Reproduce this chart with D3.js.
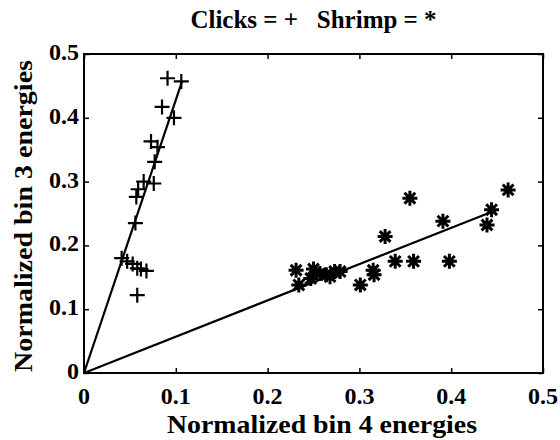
<!DOCTYPE html>
<html>
<head>
<meta charset="utf-8">
<script src="https://cdnjs.cloudflare.com/ajax/libs/d3/7.8.5/d3.min.js"></script>
<style>
  body { margin: 0; background: #fff; }
  text { font-family: "Liberation Serif", "Times New Roman", "DejaVu Serif", serif; font-weight: bold; fill: #000; }
</style>
</head>
<body>
<script>
// Clicks (+) : bin 4 energy, bin 3 energy
var clicksX = [0.091, 0.106, 0.085, 0.098, 0.073, 0.080, 0.077, 0.076, 0.065, 0.059,
  0.057, 0.056, 0.041, 0.047, 0.053, 0.058, 0.062, 0.068, 0.058];
var clicksY = [0.462, 0.457, 0.417, 0.400, 0.363, 0.354, 0.331, 0.297, 0.300, 0.288,
  0.276, 0.235, 0.180, 0.175, 0.171, 0.164, 0.163, 0.160, 0.122];

// Shrimp (*)
var shrimpX = [0.462, 0.355, 0.444, 0.391, 0.439, 0.328, 0.339, 0.359, 0.398, 0.315,
  0.316, 0.301, 0.231, 0.234, 0.250, 0.247, 0.257, 0.264, 0.273, 0.279, 0.268];
var shrimpY = [0.287, 0.274, 0.256, 0.238, 0.232, 0.214, 0.175, 0.175, 0.175, 0.161,
  0.154, 0.138, 0.161, 0.138, 0.163, 0.148, 0.156, 0.154, 0.159, 0.159, 0.151];

// fitted lines through the origin
var clicksFit = [[0, 0], [0.107, 0.458]];
var shrimpFit = [[0, 0], [0.45, 0.256]];

var ticks = [0, 0.1, 0.2, 0.3, 0.4, 0.5];
var tickLabels = ["0", "0.1", "0.2", "0.3", "0.4", "0.5"];

var width = 560,
  height = 440,
  plotLeft = 84, plotRight = 543, plotTop = 54, plotBottom = 373;

var svg = d3.select("body").append("svg")
  .attr("width", width)
  .attr("height", height);

var x = d3.scaleLinear().domain([0, 0.5]).range([plotLeft, plotRight]);
var y = d3.scaleLinear().domain([0, 0.5]).range([plotBottom, plotTop]);

// frame
svg.append("rect")
  .attr("x", plotLeft).attr("y", plotTop)
  .attr("width", plotRight - plotLeft).attr("height", plotBottom - plotTop)
  .attr("fill", "none").attr("stroke", "#000").attr("stroke-width", 2);

// inner ticks on all four sides
var tickLen = 5;
svg.append("g").call(d3.axisBottom(x).tickValues(ticks).tickSize(-tickLen).tickFormat(""))
  .attr("transform", "translate(0," + plotBottom + ")");
svg.append("g").call(d3.axisTop(x).tickValues(ticks).tickSize(-tickLen).tickFormat(""))
  .attr("transform", "translate(0," + plotTop + ")");
svg.append("g").call(d3.axisLeft(y).tickValues(ticks).tickSize(-tickLen).tickFormat(""))
  .attr("transform", "translate(" + plotLeft + ",0)");
svg.append("g").call(d3.axisRight(y).tickValues(ticks).tickSize(-tickLen).tickFormat(""))
  .attr("transform", "translate(" + plotRight + ",0)");
svg.selectAll(".domain").remove();
svg.selectAll(".tick line").attr("stroke", "#000").attr("stroke-width", 1.5);
svg.selectAll(".tick text").remove();

// tick labels
svg.append("g").selectAll("text")
  .data(ticks)
  .enter().append("text")
  .attr("x", function (d) { return x(d); })
  .attr("y", 404)
  .attr("text-anchor", "middle")
  .attr("font-size", 24)
  .text(function (d, i) { return tickLabels[i]; });

svg.append("g").selectAll("text")
  .data(ticks)
  .enter().append("text")
  .attr("x", plotLeft - 5)
  .attr("y", function (d) { return y(d) + 6; })
  .attr("text-anchor", "end")
  .attr("font-size", 24)
  .text(function (d, i) { return tickLabels[i]; });

// titles
svg.append("text")
  .attr("x", (plotLeft + plotRight) / 2).attr("y", 28)
  .attr("text-anchor", "middle")
  .attr("font-size", 25)
  .attr("xml:space", "preserve")
  .text("Clicks = +   Shrimp = *");

svg.append("text")
  .attr("x", 322).attr("y", 433)
  .attr("text-anchor", "middle")
  .attr("font-size", 26)
  .attr("textLength", 310)
  .attr("lengthAdjust", "spacingAndGlyphs")
  .text("Normalized bin 4 energies");

svg.append("text")
  .attr("transform", "translate(32,216) rotate(-90)")
  .attr("text-anchor", "middle")
  .attr("font-size", 26)
  .attr("textLength", 312)
  .attr("lengthAdjust", "spacingAndGlyphs")
  .text("Normalized bin 3 energies");

// fit lines
var line = d3.line()
  .x(function (d) { return x(d[0]); })
  .y(function (d) { return y(d[1]); });

[clicksFit, shrimpFit].forEach(function (f) {
  svg.append("path")
    .attr("d", line(f))
    .attr("fill", "none")
    .attr("stroke", "#000")
    .attr("stroke-width", 2.2);
});

// markers
var clicks = clicksX.map(function (v, i) { return [v, clicksY[i]]; });
var shrimp = shrimpX.map(function (v, i) { return [v, shrimpY[i]]; });

var s = 7.5;
svg.append("g").selectAll("path")
  .data(clicks)
  .enter().append("path")
  .attr("transform", function (d) { return "translate(" + x(d[0]) + "," + y(d[1]) + ")"; })
  .attr("d", "M" + (-s) + ",0H" + s + "M0," + (-s) + "V" + s)
  .attr("stroke", "#000")
  .attr("stroke-width", 2.2);

var a = 7.5, b = a * 0.72;
svg.append("g").selectAll("path")
  .data(shrimp)
  .enter().append("path")
  .attr("transform", function (d) { return "translate(" + x(d[0]) + "," + y(d[1]) + ")"; })
  .attr("d", "M" + (-a) + ",0H" + a + "M0," + (-a) + "V" + a +
    "M" + (-b) + "," + (-b) + "L" + b + "," + b + "M" + (-b) + "," + b + "L" + b + "," + (-b))
  .attr("stroke", "#000")
  .attr("stroke-width", 3);
</script>
</body>
</html>
